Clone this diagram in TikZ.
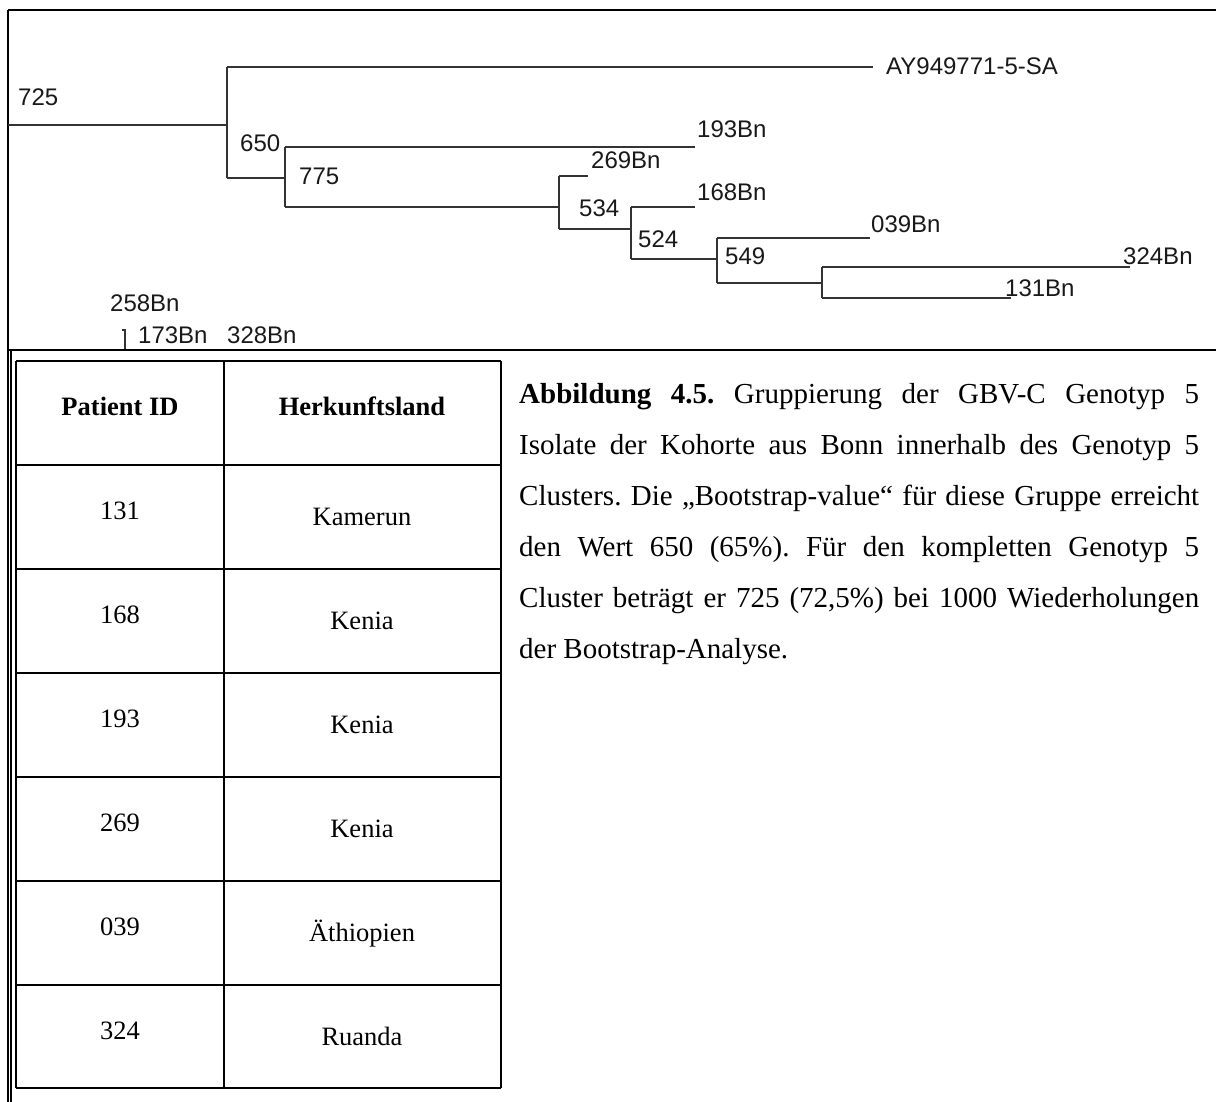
\documentclass[tikz,border=0pt]{standalone}
\usepackage{fontspec}
\setmainfont{Liberation Serif}
\newfontfamily\treefont{Liberation Sans}
\frenchspacing
\begin{document}
\begin{tikzpicture}[x=1pt,y=-1pt,
  branch/.style={draw=black!80, line width=1.4pt},
  tlabel/.style={anchor=base west, inner sep=0pt, text=black!90, font=\treefont\fontsize{24}{28}\selectfont},
  frameline/.style={draw=black, line width=2.2pt},
  thinframe/.style={draw=black, line width=1.4pt},
  gridline/.style={draw=black, line width=2pt},
  idtext/.style={anchor=base, inner sep=0pt, font=\fontsize{26.5}{30}\selectfont},
  hdtext/.style={anchor=base, inner sep=0pt, font=\bfseries\fontsize{26.5}{30}\selectfont}]
\useasboundingbox[fill=white] (0,0) rectangle (1216,1102);

% ---------- frames ----------
\draw[frameline] (8,10) -- (1216,10);
\draw[frameline] (8,350) -- (1216,350);
\draw[thinframe] (8,10) -- (8,1102);
\draw[thinframe] (11,350) -- (11,1102);

% ---------- tree coordinates ----------
\coordinate (r0) at (8,125);
\coordinate (n725) at (227,125);
\coordinate (n725t) at (227,67);
\coordinate (n725b) at (227,178);
\coordinate (lAY) at (873,67);
\coordinate (n650) at (285,178);
\coordinate (n650t) at (285,147);
\coordinate (n650b) at (285,207);
\coordinate (l193) at (695,147);
\coordinate (n775) at (559,207);
\coordinate (n775t) at (559,176);
\coordinate (n775b) at (559,229);
\coordinate (l269) at (588,176);
\coordinate (n534) at (631,229);
\coordinate (n534t) at (631,207);
\coordinate (n534b) at (631,259);
\coordinate (l168) at (695,207);
\coordinate (n524) at (717,259);
\coordinate (n524t) at (717,238);
\coordinate (n524b) at (717,283);
\coordinate (l039) at (870,238);
\coordinate (n549) at (822,283);
\coordinate (n549t) at (822,267);
\coordinate (n549b) at (822,298);
\coordinate (l324) at (1130,267);
\coordinate (l131) at (1011,298);

% ---------- tree branches ----------
\draw[branch] (r0) -- (n725);
\draw[branch] (n725t) -- (n725b);
\draw[branch] (n725t) -- (lAY);
\draw[branch] (n725b) -- (n650);
\draw[branch] (n650t) -- (n650b);
\draw[branch] (n650t) -- (l193);
\draw[branch] (n650b) -- (n775);
\draw[branch] (n775t) -- (n775b);
\draw[branch] (n775t) -- (l269);
\draw[branch] (n775b) -- (n534);
\draw[branch] (n534t) -- (n534b);
\draw[branch] (n534t) -- (l168);
\draw[branch] (n534b) -- (n524);
\draw[branch] (n524t) -- (n524b);
\draw[branch] (n524t) -- (l039);
\draw[branch] (n524b) -- (n549);
\draw[branch] (n549t) -- (n549b);
\draw[branch] (n549t) -- (l324);
\draw[branch] (n549b) -- (l131);

% small collapsed tick
\coordinate (tk1) at (122,330);
\coordinate (tk2) at (125,330);
\coordinate (tk3) at (125,349);
\draw[branch, line width=1.1pt] (tk1) -- (tk2) -- (tk3);

% ---------- tree labels ----------
\node[tlabel] (t725) at (18,106) {725};
\node[tlabel] (tAY) at (886,75) {AY949771-5-SA};
\node[tlabel] (t650) at (240,152) {650};
\node[tlabel] (t193) at (697,138) {193Bn};
\node[tlabel] (t775) at (299,185) {775};
\node[tlabel] (t269) at (591,169) {269Bn};
\node[tlabel] (t534) at (579,217) {534};
\node[tlabel] (t168) at (697,201) {168Bn};
\node[tlabel] (t524) at (638,248) {524};
\node[tlabel] (t039) at (871,233) {039Bn};
\node[tlabel] (t549) at (725,265) {549};
\node[tlabel] (t324) at (1123,265) {324Bn};
\node[tlabel] (t131) at (1005,296) {131Bn};
\node[tlabel] (t258) at (110,312) {258Bn};
\node[tlabel] (t173) at (138,343) {173Bn};
\node[tlabel] (t328) at (227,343) {328Bn};

% ---------- table ----------
\def\tl{16}\def\tm{224}\def\tr{501}
\foreach \yy in {361,465,569,673,777,881,985,1088}
  \draw[gridline] (\tl,\yy) -- (\tr,\yy);
\draw[gridline] (\tl,361) -- (\tl,1088);
\draw[gridline] (\tm,361) -- (\tm,1088);
\draw[gridline] (\tr,361) -- (\tr,1088);

\node[hdtext] (hid) at (120,415) {Patient ID};
\node[hdtext] (hland) at (362,415) {Herkunftsland};
\foreach \top/\pid/\land [count=\i] in {465/131/Kamerun,569/168/Kenia,673/193/Kenia,777/269/Kenia,881/039/Äthiopien,985/324/Ruanda}{
  \node[idtext] (id\i) at (120,\top+54.5) {\pid};
  \node[idtext] (land\i) at (362,\top+60) {\land};
}

% ---------- caption ----------
\node[anchor=north west, inner sep=0pt, text width=680pt, align=justify,
      font=\fontsize{29}{51}\selectfont] (caption) at (519,383)
{\textbf{Abbildung 4.5.} Gruppierung der GBV-C Genotyp 5\linebreak
Isolate der Kohorte aus Bonn innerhalb des Genotyp 5\linebreak
Clusters. Die „Bootstrap-value“ für diese Gruppe erreicht\linebreak
den Wert 650 (65\%). Für den kompletten Genotyp 5\linebreak
Cluster beträgt er 725 (72,5\%) bei 1000 Wiederholungen\linebreak
der Bootstrap-Analyse.};
\end{tikzpicture}
\end{document}
